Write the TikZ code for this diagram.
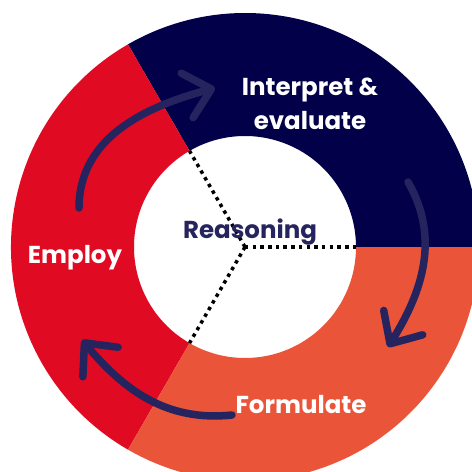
\documentclass[tikz,border=0pt]{standalone}
\usepackage{fontspec}
\setmainfont{Poppins}
\usetikzlibrary{arrows.meta}

\definecolor{navyseg}{HTML}{020048}
\definecolor{redseg}{HTML}{E10A23}
\definecolor{orangeseg}{HTML}{EA553A}
\definecolor{arrowcol}{HTML}{26245F}

\begin{document}
\begin{tikzpicture}[
        x=1pt, y=1pt,
        font=\bfseries\fontsize{24.5}{31}\selectfont,
        label/.style={text=white, align=center, inner sep=0pt},
        cyclearrow/.style={draw=arrowcol, line width=7.5pt, line cap=round,
            -{Straight Barb[length=25pt, width=46pt, round]}},
        divider/.style={line width=3.5pt, dash pattern=on 3.5pt off 4.2pt}
        ]
        % --- Ring radii (tune if needed) ---
        \def\rin{111}   % inner radius
        \def\rout{234}  % outer radius

        \useasboundingbox (-245,-225) rectangle (227,247);

        % Ring segments
        \foreach \a/\col in {0/navyseg, 120/redseg, 240/orangeseg} {
            \fill[\col] (\a:\rin) -- (\a:\rout)
                arc[start angle=\a, end angle=\a+120, radius=\rout]
                -- (\a+120:\rin)
                arc[start angle=\a+120, end angle=\a, radius=\rin] -- cycle;
        }

        % Centre and dotted dividers
        \coordinate (centre) at (0,0);
        \foreach \a [count=\i] in {0,120,240}
            \coordinate (edge\i) at (\a:\rin);
        \foreach \i in {1,2,3}
            \draw[divider] (centre) -- (edge\i);

        % Labels
        \node[label, anchor=base] (interpret) at (65,152) {Interpret \&};
        \node[label, anchor=base] (evaluate)  at (65,118) {evaluate};
        \node[label, anchor=base] (employ)    at (-170,-16) {Employ};
        \node[label, anchor=base] (formulate) at (56,-166) {Formulate};
        \node[text=arrowcol, inner sep=0pt, anchor=base] (reasoning) at (5,9) {Reasoning};

        % Arrow end points
        \coordinate (emp_start) at (-166,39);
        \coordinate (emp_end)   at (-30,159);
        \coordinate (int_start) at (163,65);
        \coordinate (int_end)   at (143,-100);
        \coordinate (for_start) at (-13,-168);
        \coordinate (for_end)   at (-163,-93);

        % Arrows
        \draw[cyclearrow] (emp_start) to[out=90, in=195] (emp_end);
        \draw[cyclearrow] (int_start) to[out=-60, in=58] (int_end);
        \draw[cyclearrow] (for_start) to[out=186, in=-50] (for_end);

    \end{tikzpicture}
\end{document}
